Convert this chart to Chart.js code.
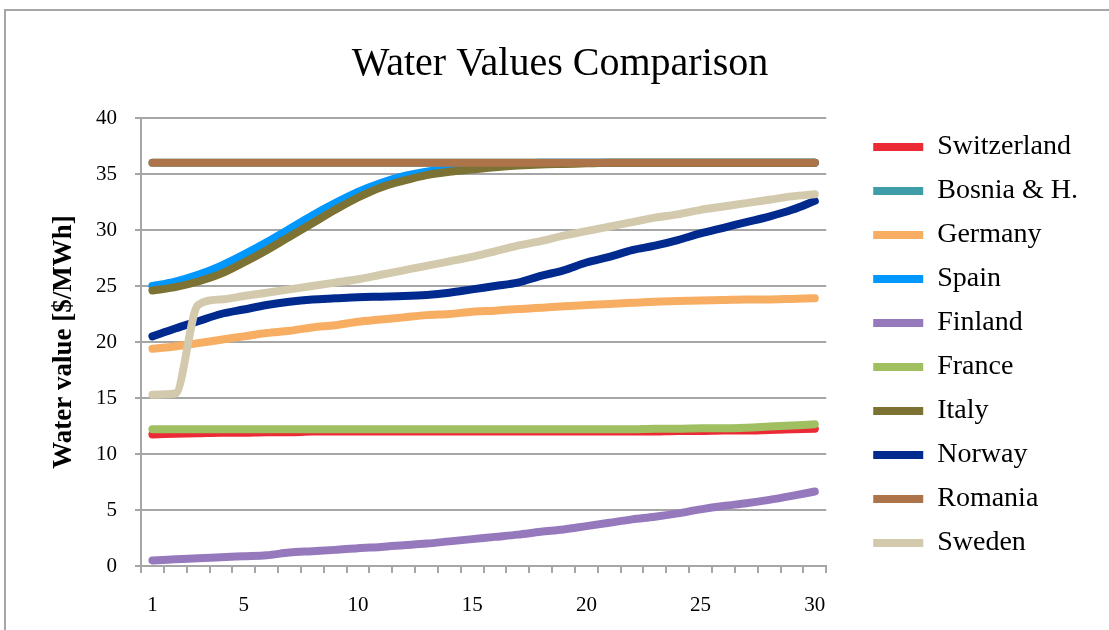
<!DOCTYPE html>
<html>
<head>
<meta charset="utf-8">
<script src="https://cdn.jsdelivr.net/npm/chart.js@4/dist/chart.umd.min.js"></script>
<style>
  html, body { margin: 0; padding: 0; background: #fff; }
  #wrap { position: relative; width: 1109px; height: 630px; overflow: hidden; }
  #frame { position: absolute; left: 4px; top: 9px; width: 1200px; height: 700px;
           border-left: 2px solid #a6a6a6; border-top: 2px solid #a6a6a6; box-sizing: border-box; }
  canvas { position: absolute; left: 0; top: 0; }
</style>
</head>
<body>
<div id="wrap">
  <div id="frame"></div>
  <canvas id="chart" width="1109" height="630"></canvas>
</div>
<script>
// Stage index along the horizontal axis
const stages = [1, 2, 3, 4, 5, 6, 7, 8, 9, 10, 11, 12, 13, 14, 15,
                16, 17, 18, 19, 20, 21, 22, 23, 24, 25, 26, 27, 28, 29, 30];
// Stages that carry a printed label
const labelledStages = ['1', '5', '10', '15', '20', '25', '30'];
const yTicks = [0, 5, 10, 15, 20, 25, 30, 35, 40];

// Water values per country [$/MWh]
const switzerland = [11.75, 11.8, 11.85, 11.9, 11.9, 11.95, 11.95, 12.0, 12.0, 12.0, 12.0, 12.0, 12.0, 12.0, 12.0,
                     12.0, 12.0, 12.0, 12.0, 12.0, 12.0, 12.0, 12.0, 12.05, 12.05, 12.1, 12.1, 12.15, 12.2, 12.25];
const bosnia = [36, 36, 36, 36, 36, 36, 36, 36, 36, 36, 36, 36, 36, 36, 36,
                36, 36, 36, 36, 36, 36, 36, 36, 36, 36, 36, 36, 36, 36, 36];
const germany = [19.4, 19.6, 19.9, 20.2, 20.5, 20.8, 21.0, 21.3, 21.5, 21.8, 22.0, 22.2, 22.4, 22.5, 22.7,
                 22.8, 22.95, 23.05, 23.2, 23.3, 23.4, 23.5, 23.6, 23.65, 23.7, 23.75, 23.8, 23.8, 23.85, 23.9];
const spain = [25.0, 25.4, 26.0, 26.8, 27.8, 28.9, 30.1, 31.3, 32.4, 33.4, 34.2, 34.8, 35.2, 35.5, 35.7,
               35.8, 35.9, 36, 36, 36, 36, 36, 36, 36, 36, 36, 36, 36, 36, 36];
const finland = [0.5, 0.6, 0.7, 0.78, 0.87, 0.96, 1.2, 1.32, 1.44, 1.59, 1.7, 1.85, 2.0, 2.2, 2.4,
                 2.6, 2.8, 3.05, 3.26, 3.56, 3.86, 4.16, 4.4, 4.7, 5.06, 5.36, 5.6, 5.9, 6.26, 6.65];
const france = [12.2, 12.2, 12.2, 12.2, 12.2, 12.2, 12.2, 12.2, 12.2, 12.2, 12.2, 12.2, 12.2, 12.2, 12.2,
                12.2, 12.2, 12.2, 12.2, 12.2, 12.2, 12.2, 12.25, 12.25, 12.3, 12.3, 12.35, 12.45, 12.55, 12.65];
const italy = [24.6, 24.9, 25.4, 26.1, 27.1, 28.2, 29.4, 30.6, 31.8, 32.9, 33.8, 34.4, 34.9, 35.2, 35.4,
               35.6, 35.75, 35.85, 35.9, 35.95, 36, 36, 36, 36, 36, 36, 36, 36, 36, 36];
const norway = [20.5, 21.2, 21.85, 22.5, 22.9, 23.3, 23.6, 23.8, 23.9, 24.0, 24.05, 24.1, 24.2, 24.4, 24.7,
                25.0, 25.3, 25.9, 26.4, 27.1, 27.6, 28.2, 28.6, 29.1, 29.7, 30.2, 30.7, 31.2, 31.8, 32.6];
const romania = [36, 36, 36, 36, 36, 36, 36, 36, 36, 36, 36, 36, 36, 36, 36,
                 36, 36, 36, 36, 36, 36, 36, 36, 36, 36, 36, 36, 36, 36, 36];
const sweden = [15.3, 15.4, 23.3, 23.8, 24.1, 24.4, 24.7, 25.0, 25.3, 25.6, 26.0, 26.4, 26.8, 27.2, 27.6,
                28.1, 28.6, 29.0, 29.5, 29.9, 30.3, 30.7, 31.1, 31.4, 31.8, 32.1, 32.4, 32.7, 33.0, 33.2];

const series = [
  { name: 'Switzerland', data: switzerland, color: '#ec2a35' },
  { name: 'Bosnia & H.', data: bosnia,      color: '#3f9ca9' },
  { name: 'Germany',     data: germany,     color: '#f7ad62' },
  { name: 'Spain',       data: spain,       color: '#0098ff' },
  { name: 'Finland',     data: finland,     color: '#9679bd' },
  { name: 'France',      data: france,      color: '#a0bf61' },
  { name: 'Italy',       data: italy,       color: '#7b7233' },
  { name: 'Norway',      data: norway,      color: '#002a8e' },
  { name: 'Romania',     data: romania,     color: '#ad744a' },
  { name: 'Sweden',      data: sweden,      color: '#d3c9ac' }
];

const serif = "'Liberation Serif', 'DejaVu Serif', serif";
const gridGrey = '#a6a6a6';

// After layout: slide the legend right (leaving a gap beside the plot)
// and re-centre the heading over the page.
const layoutNudge = {
  id: 'layoutNudge',
  afterLayout(chart) {
    const lg = chart.legend;
    if (lg) { lg.left += 31; lg.right += 31; }
    const tb = chart.titleBlock;
    if (tb) { tb.left += 6; tb.right += 6; }
  }
};

new Chart(document.getElementById('chart'), {
  type: 'line',
  plugins: [layoutNudge],
  data: {
    labels: stages.map(String),
    datasets: series.map((s, i) => ({
      label: s.name,
      data: s.data,
      borderColor: s.color,
      backgroundColor: s.color,
      borderWidth: 8,
      borderCapStyle: 'round',
      borderJoinStyle: 'round',
      pointRadius: 0,
      pointHoverRadius: 0,
      cubicInterpolationMode: 'monotone',
      fill: false,
      // later countries are painted over earlier ones
      order: series.length - i
    }))
  },
  options: {
    responsive: false,
    animation: false,
    events: [],
    layout: { padding: { left: 51, right: 52, top: 14, bottom: 0 } },
    plugins: {
      title: {
        display: true,
        text: 'Water Values Comparison',
        color: '#000',
        font: { family: serif, size: 40, weight: 'normal' },
        padding: { top: 26, bottom: 30 }
      },
      legend: {
        position: 'right',
        title: {
          // empty heading used only to push the entries down a little
          display: true,
          text: ' ',
          font: { size: 10 },
          padding: 17
        },
        labels: {
          color: '#000',
          font: { family: serif, size: 28 },
          usePointStyle: true,
          pointStyle: 'line',
          pointStyleWidth: 50,
          boxHeight: 8,
          padding: 16,
          sort: (a, b) => a.datasetIndex - b.datasetIndex
        }
      },
      tooltip: { enabled: false }
    },
    scales: {
      x: {
        type: 'category',
        offset: true,
        grid: {
          offset: true,
          drawOnChartArea: false,
          drawTicks: true,
          tickLength: 7,
          color: gridGrey,
          lineWidth: 2
        },
        border: { color: gridGrey, width: 2 },
        ticks: {
          autoSkip: false,
          maxRotation: 0,
          color: '#000',
          padding: 20,
          font: { family: serif, size: 21 },
          callback: function (value) {
            const lab = this.getLabelForValue(value);
            return labelledStages.includes(lab) ? lab : '';
          }
        },
        // keep the axis strip compact so the plot reaches further down
        afterFit: (scale) => { scale.height = 64; }
      },
      y: {
        min: yTicks[0],
        max: yTicks[yTicks.length - 1],
        ticks: {
          stepSize: yTicks[1] - yTicks[0],
          color: '#000',
          padding: 18,
          font: { family: serif, size: 21 }
        },
        grid: { color: gridGrey, lineWidth: 2, tickLength: 6 },
        border: { color: gridGrey, width: 2 },
        title: {
          display: true,
          text: 'Water value [$/MWh]',
          color: '#000',
          font: { family: serif, size: 27, weight: 'bold', lineHeight: 1 },
          padding: { top: 0, bottom: 0 }
        }
      }
    }
  }
});
</script>
</body>
</html>
